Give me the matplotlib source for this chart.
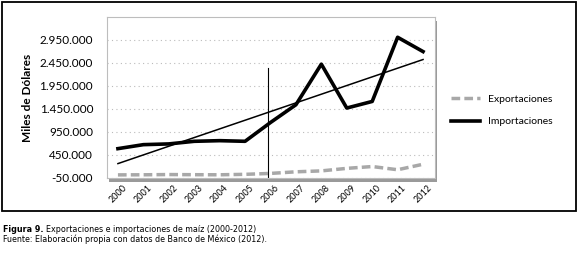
import matplotlib
matplotlib.use("Agg")
import matplotlib.pyplot as plt
import matplotlib.patches as patches
import numpy as np

# datos (miles de dolares)
years = ["2000", "2001", "2002", "2003", "2004", "2005", "2006",
         "2007", "2008", "2009", "2010", "2011", "2012"]
importaciones = [580000, 667000, 683000, 740000, 754000, 740000, 1150000,
                 1537000, 2422000, 1465000, 1609000, 3008000, 2696000]
exportaciones = [8000, 10000, 15000, 12000, 10000, 20000, 40000,
                 75000, 95000, 150000, 190000, 120000, 240000]
yticks = [-50000, 450000, 950000, 1450000, 1950000, 2450000, 2950000]

plt.rcParams['font.family'] = ['Lato', 'DejaVu Sans']

W, H = 578, 256
fig = plt.figure(figsize=(W / 100, H / 100), dpi=100)

# marco exterior
fig.patches.append(patches.Rectangle((2 / W, 1 - 211 / H), 574 / W, 209 / H,
                                     transform=fig.transFigure, fill=False,
                                     edgecolor='black', linewidth=1.3))

# sombra del area de grafico
l, r, t, b = 107, 435, 17, 178
fig.patches.append(patches.Rectangle(((l + 2) / W, 1 - (b + 4) / H), (r - l) / W, (b - t) / H,
                                     transform=fig.transFigure, facecolor='#9a9a9a',
                                     edgecolor='none', zorder=0))
ax = fig.add_axes([l / W, 1 - b / H, (r - l) / W, (b - t) / H])
ax.set_zorder(2)
ax.set_facecolor('white')

x = np.arange(len(years))
ax.plot(x, exportaciones, color='#a8a8a8', linewidth=2.5, dashes=(2.5, 1.2), label='Exportaciones')
ax.plot(x, importaciones, color='black', linewidth=2.6, label='Importaciones')
coef = np.polyfit(x, importaciones, 1)
ax.plot(x, np.polyval(coef, x), color='black', linewidth=1.1)
ax.plot([5.9, 5.9], [-60000, 2340000], color='black', linewidth=0.8)

ax.set_xlim(-0.43, 12.47)
ax.set_ylim(-60000, 3450000)
ax.set_yticks(yticks)
ax.set_yticklabels(['{:,}'.format(v).replace(',', '.') for v in yticks], fontsize=8.5)
ax.set_xticks(x)
ax.set_xticklabels(years, rotation=45, fontsize=6.5)
ax.tick_params(length=0, pad=4)
ax.tick_params(axis='y', pad=10)
ax.yaxis.grid(True, linestyle=(0, (1, 3)), color='#bbbbbb', linewidth=0.8)
ax.set_axisbelow(True)
for s in ax.spines.values():
    s.set_color('#bdbdbd')
    s.set_linewidth(0.8)

ax.set_ylabel('Miles de Dólares', fontsize=8.5, fontweight='bold', labelpad=5)

ax.legend(loc='center left', bbox_to_anchor=(1.02, 0.42), frameon=False,
          fontsize=7.5, handlelength=2.8, labelspacing=1.3)

# pie de figura
fig.canvas.draw()
rend = fig.canvas.get_renderer()
cap = dict(fontsize=6.4, family='DejaVu Sans', stretch='condensed', va='center')
t1 = fig.text(3 / W, 1 - 229 / H, 'Figura 9.', fontweight='bold', **cap)
w1 = t1.get_window_extent(rend).x1
fig.text((w1 + 3) / W, 1 - 229 / H, 'Exportaciones e importaciones de maíz (2000-2012)', **cap)
fig.text(3 / W, 1 - 239 / H, 'Fuente: Elaboración propia con datos de Banco de México (2012).', **cap)

fig.savefig('out.png', dpi=100)
